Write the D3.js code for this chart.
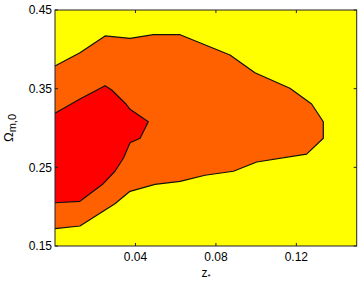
<!DOCTYPE html>
<html><head><meta charset="utf-8">
<script src="https://cdn.jsdelivr.net/npm/d3@7"></script>
<style>body{margin:0;background:#fff}svg{display:block}text{font-family:"Liberation Sans",Arial,sans-serif}</style>
</head><body><svg id="c" width="359" height="284"></svg>
<script>
// 68% (outer) contour boundary
const outerZ = [0, 0.0124, 0.0249, 0.0373, 0.0489, 0.0622, 0.0870, 0.0994, 0.1168, 0.1276, 0.1334, 0.1334, 0.1251, 0.1003, 0.0887, 0.0746, 0.0622, 0.0497, 0.0373, 0.0298, 0.0124, 0];
const outerOm = [0.3788, 0.3957, 0.4170, 0.4140, 0.4186, 0.4186, 0.3928, 0.3703, 0.3505, 0.3305, 0.3080, 0.2869, 0.2668, 0.2568, 0.2450, 0.2399, 0.2322, 0.2284, 0.2195, 0.2038, 0.1754, 0.1720];
// inner contour boundary
const innerZ = [0, 0.0124, 0.0249, 0.0282, 0.0353, 0.0373, 0.0464, 0.0423, 0.0373, 0.0340, 0.0298, 0.0240, 0.0124, 0];
const innerOm = [0.3187, 0.3369, 0.3538, 0.3483, 0.3305, 0.3238, 0.3080, 0.2869, 0.2813, 0.2615, 0.2450, 0.2292, 0.2068, 0.2050];
const xTicks = [0.04, 0.08, 0.12];
const yTicks = [0.15, 0.25, 0.35, 0.45];
const xLabels = ["0.04", "0.08", "0.12"];
const yLabels = ["0.15", "0.25", "0.35", "0.45"];

const L = 55, R = 356.7, T = 10, B = 246;
const x = d3.scaleLinear().domain([0, 0.15]).range([L, R]);
const y = d3.scaleLinear().domain([0.15, 0.45]).range([B, T]);
const svg = d3.select("#c");

svg.append("rect").attr("x", L).attr("y", T).attr("width", R - L).attr("height", B - T).attr("fill", "#ffff00");

function draw(xs, ys, fill) {
  const pts = xs.map((v, i) => [x(v), y(ys[i])]);
  svg.append("path").attr("d", d3.line()(pts) + "Z").attr("fill", fill).attr("stroke", "none");
  svg.append("path").attr("d", d3.line()(pts)).attr("fill", "none").attr("stroke", "#111").attr("stroke-width", 1.2).attr("stroke-linejoin", "round");
}
draw(outerZ, outerOm, "#ff6000");
draw(innerZ, innerOm, "#ff0000");

// ticks inward
const tk = 3;
xTicks.forEach(v => {
  svg.append("line").attr("x1", x(v)).attr("x2", x(v)).attr("y1", B).attr("y2", B - tk).attr("stroke", "#222");
  svg.append("line").attr("x1", x(v)).attr("x2", x(v)).attr("y1", T).attr("y2", T + tk).attr("stroke", "#222");
});
yTicks.forEach(v => {
  svg.append("line").attr("x1", L).attr("x2", L + tk).attr("y1", y(v)).attr("y2", y(v)).attr("stroke", "#222");
  svg.append("line").attr("x1", R).attr("x2", R - tk).attr("y1", y(v)).attr("y2", y(v)).attr("stroke", "#222");
});
svg.append("rect").attr("x", L).attr("y", T).attr("width", R - L).attr("height", B - T).attr("fill", "none").attr("stroke", "#222").attr("stroke-width", 1);

xTicks.forEach((v, i) => {
  svg.append("text").attr("x", x(v)).attr("y", 261).attr("text-anchor", "middle").attr("font-size", 12).text(xLabels[i]);
});
yTicks.forEach((v, i) => {
  svg.append("text").attr("x", 52).attr("y", y(v) + 4.3).attr("text-anchor", "end").attr("font-size", 12).text(yLabels[i]);
});

const xl = svg.append("text").attr("x", 206).attr("y", 277).attr("text-anchor", "middle").attr("font-size", 12);
xl.append("tspan").text("z");
xl.append("tspan").attr("font-size", 8).attr("dy", 2).text("*");

const yl = svg.append("text").attr("transform", "translate(13,128) rotate(-90)").attr("text-anchor", "middle").attr("font-size", 13);
yl.append("tspan").text("Ω");
yl.append("tspan").attr("font-size", 11).attr("dy", 3).text("m,0");
</script></body></html>
